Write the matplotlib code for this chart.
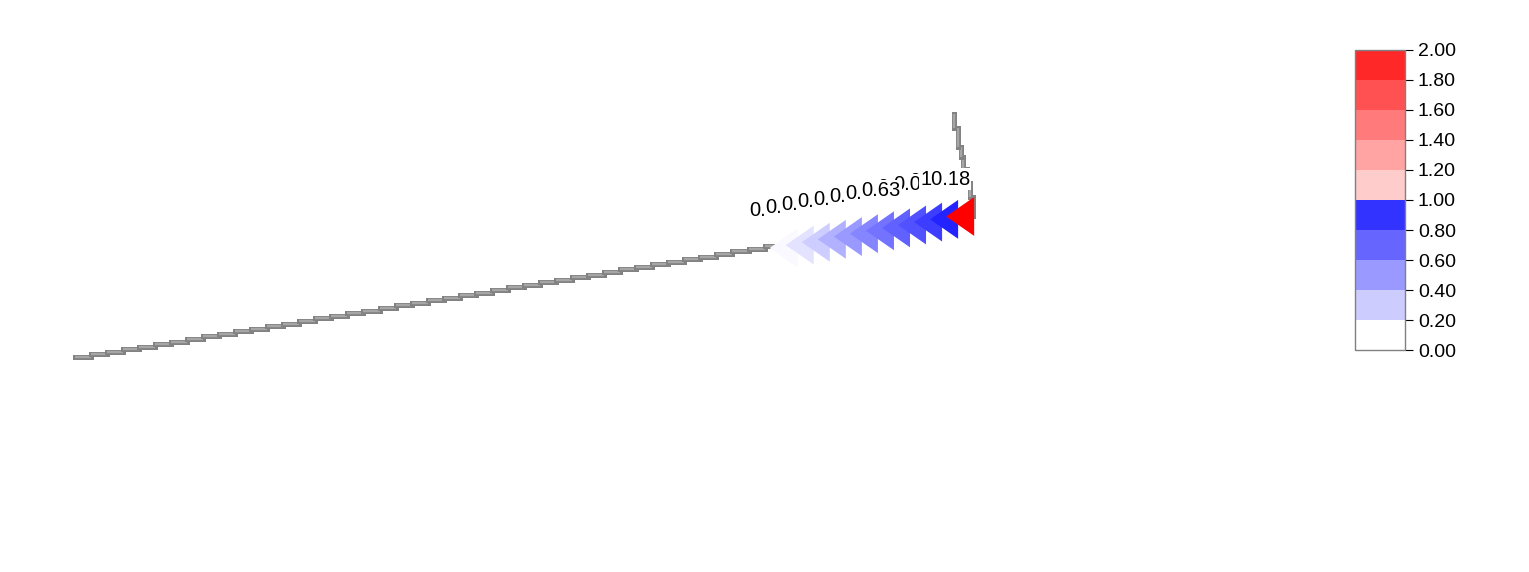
import matplotlib
matplotlib.use("Agg")
import matplotlib.pyplot as plt
from matplotlib import colors as mcolors
from matplotlib import patheffects as pe
from matplotlib.cm import ScalarMappable

plt.rcParams["font.family"] = ["Liberation Sans", "DejaVu Sans"]

# gridded track leading up to the arrows (lon / lat, degrees)
TRACK_LON = [
    110.0, 110.1, 110.2, 110.3, 110.4, 110.5, 110.6, 110.7, 110.8, 110.9,
    111.0, 111.1, 111.2, 111.3, 111.4, 111.5, 111.6, 111.7, 111.8, 111.9,
    112.0, 112.1, 112.2, 112.3, 112.4, 112.5, 112.6, 112.7, 112.8, 112.9,
    113.0, 113.1, 113.2, 113.3, 113.4, 113.5, 113.6, 113.7, 113.8, 113.9,
    114.0, 114.1, 114.2, 114.3,
]
TRACK_LAT = [
    20.000, 20.016, 20.032, 20.048, 20.064, 20.080, 20.096, 20.112, 20.128, 20.144,
    20.160, 20.176, 20.192, 20.208, 20.224, 20.240, 20.256, 20.272, 20.288, 20.304,
    20.320, 20.336, 20.352, 20.368, 20.384, 20.400, 20.416, 20.432, 20.448, 20.464,
    20.480, 20.496, 20.512, 20.528, 20.544, 20.560, 20.576, 20.592, 20.608, 20.624,
    20.640, 20.656, 20.672, 20.688,
]

# arrow positions, colour level and printed value
ARROW_LON = [114.4, 114.5, 114.6, 114.7, 114.8, 114.9, 115.0, 115.1, 115.2, 115.3, 115.4, 115.5]
ARROW_LAT = [20.677, 20.695, 20.713, 20.731, 20.748, 20.766,
             20.784, 20.802, 20.820, 20.838, 20.855, 20.873]
ARROW_LEVEL = [0.03, 0.11, 0.20, 0.31, 0.40, 0.48, 0.55, 0.62, 0.68, 0.76, 0.86, 10.18]
LABEL_VALUE = [0.00, 0.01, 0.01, 0.02, 0.02, 0.03, 0.04, 0.63, 0.02, 0.05, 0.03, 10.18]

# track after the last arrow, turning north
TAIL_LON = [115.600, 115.580, 115.560, 115.540, 115.522, 115.503, 115.484]
TAIL_LAT = [20.994, 21.081, 21.168, 21.242, 21.304, 21.422, 21.509]

LEVELS = [0.0, 0.2, 0.4, 0.6, 0.8, 1.0, 1.2, 1.4, 1.6, 1.8, 2.0]
LEVEL_COLORS = ["#ffffff", "#ccccff", "#9999ff", "#6666ff", "#3333ff",
                "#ffcccc", "#ffa3a3", "#ff7a7a", "#ff5151", "#ff2828"]


def step_pieces(lon, lat):
    """Split a stepped track into its long legs (one box per grid step)."""
    pieces = []
    for x0, y0, x1, y1 in zip(lon[:-1], lat[:-1], lon[1:], lat[1:]):
        if abs(x1 - x0) >= abs(y1 - y0):
            pieces.append(([x0, x1], [y0, y0]))
        else:
            pieces.append(([x1, x1], [y0, y1]))
    return pieces


def main() -> None:
    fig = plt.figure(figsize=(15.29, 5.72), dpi=100)
    ax = fig.add_axes([0, 0, 1, 1])
    ax.set_xlim(109.5342, 119.0652)
    ax.set_ylim(18.6646, 22.2174)
    ax.axis("off")

    track_lon = TRACK_LON + ARROW_LON + TAIL_LON
    track_lat = TRACK_LAT + ARROW_LAT + TAIL_LAT
    outline = [pe.Stroke(linewidth=3.6, foreground="#828282", capstyle="projecting"),
               pe.Normal()]
    for xs, ys in step_pieces(track_lon, track_lat):
        ax.plot(xs, ys, color="#a6a6a6", lw=1.7, solid_capstyle="butt",
                path_effects=outline, zorder=2)

    cmap = mcolors.LinearSegmentedColormap.from_list(
        "track", [(0.0, "#ffffff"), (0.5, "#0000ff"), (0.5, "#ffcccc"), (1.0, "#ff0000")])
    norm = mcolors.Normalize(vmin=0.0, vmax=2.0)
    # left-pointing arrow, anchored a little behind its tip
    arrow = [(-0.56, 0.0), (0.88, 1.0), (0.88, -1.0)]
    ax.scatter(ARROW_LON, ARROW_LAT, c=ARROW_LEVEL, cmap=cmap, norm=norm,
               marker=arrow, s=28 ** 2, linewidths=0, zorder=3)

    for lon, lat, val in zip(ARROW_LON, ARROW_LAT, LABEL_VALUE):
        ax.annotate(f"{val:.2f}", (lon, lat), xytext=(-8.5, 23),
                    textcoords="offset points", ha="center", va="baseline",
                    fontsize=14.5, zorder=10 + val,
                    bbox=dict(boxstyle="square,pad=0.05", fc="white", ec="none"))

    # discrete colour key
    cax = fig.add_axes([0.8862, 0.3881, 0.0327, 0.5245])
    bins_cmap = mcolors.ListedColormap(LEVEL_COLORS)
    bins_norm = mcolors.BoundaryNorm(LEVELS, bins_cmap.N)
    cb = fig.colorbar(ScalarMappable(norm=bins_norm, cmap=bins_cmap), cax=cax,
                      ticks=LEVELS, format="%.2f")
    cb.outline.set_edgecolor("#808080")
    cb.outline.set_linewidth(1.0)
    cax.tick_params(length=5.8, width=0.8, labelsize=14, pad=3.5, color="black")

    fig.savefig("out.png", dpi=100)
    plt.close(fig)


if __name__ == "__main__":
    main()
